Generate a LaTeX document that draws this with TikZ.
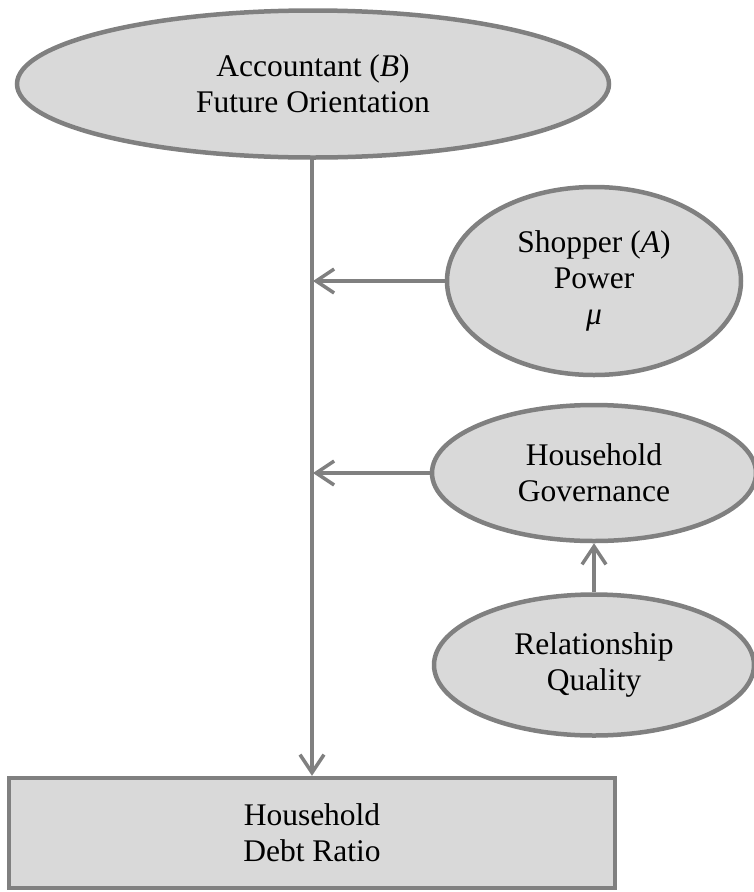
\documentclass[tikz,border=0pt]{standalone}
\usepackage{fontspec}
\setmainfont{Liberation Serif}
\usetikzlibrary{arrows.meta,shapes.geometric}
\definecolor{lc}{RGB}{128,128,128}
\definecolor{fc}{RGB}{217,217,217}
\begin{document}
\begin{tikzpicture}[x=1pt,y=-1pt,
  ell/.style={ellipse,draw=lc,fill=fc,line width=4.5pt,inner sep=0pt,align=center,
    font=\fontsize{31.5}{36}\selectfont},
  boxnode/.style={rectangle,draw=lc,fill=fc,line width=4.5pt,inner sep=0pt,align=center,
    font=\fontsize{31.5}{36}\selectfont},
  conn/.style={draw=lc,line width=3.5pt,-{Straight Barb[length=18pt,width=24pt,line width=3.5pt]}}]
\useasboundingbox (0,0) rectangle (753,892);
\node[ell,minimum width=592pt,minimum height=147pt] (acc) at (313,84) {Accountant (\textit{B})\\Future Orientation};
\node[ell,minimum width=294pt,minimum height=188pt] (shop) at (594,281) {Shopper (\textit{A})\\Power\\\textit{μ}};
\node[ell,minimum width=324pt,minimum height=136pt] (gov) at (594,473) {Household\\Governance};
\node[ell,minimum width=320pt,minimum height=141pt] (rel) at (594,665) {Relationship\\Quality};
\node[boxnode,minimum width=606pt,minimum height=110pt] (debt) at (312,833) {Household\\Debt Ratio};
\coordinate (m1) at (313,281);
\coordinate (m2) at (313,473);
\draw[conn] (acc.south -| debt.north) -- (debt.north);
\draw[conn] (shop.west) -- (m1);
\draw[conn] (gov.west) -- (m2);
\draw[conn] (rel.north) -- (gov.south);
\end{tikzpicture}
\end{document}
